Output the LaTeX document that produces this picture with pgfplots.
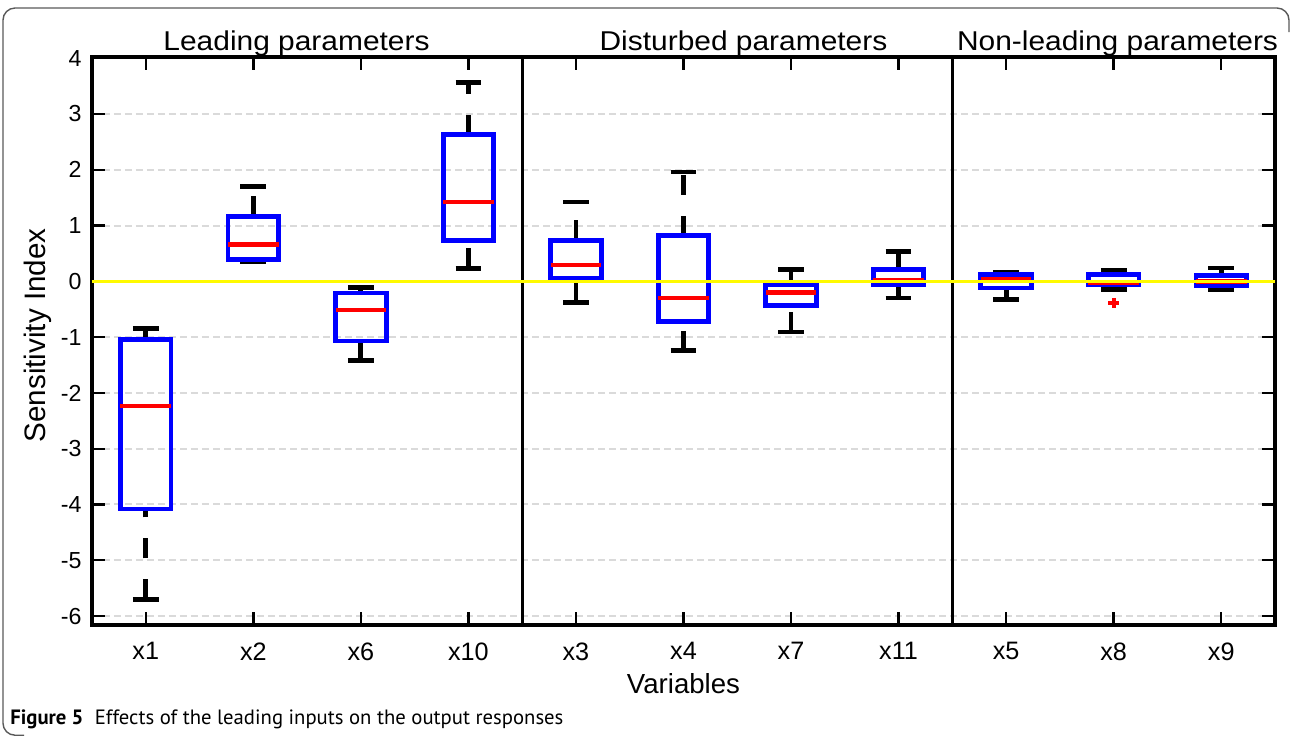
\documentclass[border=0pt]{standalone}
\usepackage{pgfplots}
\pgfplotsset{compat=1.18}
\usepgfplotslibrary{statistics}
\usepackage{fontspec}
\setmainfont{Liberation Sans}
\newfontfamily\titlefont{Liberation Sans}[FakeStretch=1.1]
\newfontfamily\capfont{PT Sans}
\definecolor{mblue}{RGB}{0,0,255}
\definecolor{mred}{RGB}{255,0,0}
\definecolor{myellow}{RGB}{255,250,0}
\definecolor{mgrid}{RGB}{218,218,218}
\pgfplotsset{
  /pgfplots/boxplot/draw/lower whisker/.code={%
    \draw[black, line width=2.4pt, dash pattern=on 10pt off 10.5pt]
      (boxplot cs:\pgfplotsboxplotvalue{lower whisker}) -- (boxplot cs:\pgfplotsboxplotvalue{lower quartile});
    \draw[black, line width=2.4pt]
      (boxplot whisker cs:\pgfplotsboxplotvalue{lower whisker},0) -- (boxplot whisker cs:\pgfplotsboxplotvalue{lower whisker},1);
  },
  /pgfplots/boxplot/draw/upper whisker/.code={%
    \draw[black, line width=2.4pt, dash pattern=on 10pt off 10.5pt]
      (boxplot cs:\pgfplotsboxplotvalue{upper quartile}) -- (boxplot cs:\pgfplotsboxplotvalue{upper whisker});
    \draw[black, line width=2.4pt]
      (boxplot whisker cs:\pgfplotsboxplotvalue{upper whisker},0) -- (boxplot whisker cs:\pgfplotsboxplotvalue{upper whisker},1);
  },
  mybox/.style={draw=mblue, line width=2.4pt, solid,
    boxplot/draw direction=y,
    boxplot/box extend=0.47, boxplot/whisker extend=0.24,
    boxplot/every box/.style={draw=mblue, line width=2.4pt},
    boxplot/every median/.style={draw=mred, line width=2.2pt},
    mark=none},
}
\begin{document}
\begin{tikzpicture}
\useasboundingbox (0,0) rectangle (646pt,-368pt);
\draw[black!65, line width=0.7pt, rounded corners=6pt] (12pt,-367.6pt) -- (1.5pt,-367.6pt) -- (1.5pt,-4pt) -- (644.5pt,-4pt) -- (644.5pt,-16pt);
\begin{axis}[
  at={(46pt,-312.5pt)}, anchor=south west,
  width=591.5pt, height=284pt, scale only axis,
  xmin=0.5, xmax=11.5, ymin=-6.16, ymax=4.02,
  xtick={1,...,11},
  xticklabels={x1,x2,x6,x10,x3,x4,x7,x11,x5,x8,x9},
  ytick={-6,-5,-4,-3,-2,-1,0,1,2,3,4},
  yticklabels={-6,-5,-4,-3,-2,-1,0,1,2,3,4},
  tick align=inside, xtick pos=both, ytick pos=both,
  xticklabel pos=lower, yticklabel pos=left,
  major tick length=6.5pt,
  tick style={black, line width=1.2pt},
  axis line style={black, line width=1.6pt},
  ymajorgrids,
  grid style={mgrid, line width=1pt, dash pattern=on 3.5pt off 2pt},
  xticklabel style={font=\fontsize{12.6}{14}\selectfont, inner sep=0pt, anchor=north, yshift=-8.5pt},
  yticklabel style={font=\fontsize{11.6}{13}\selectfont, inner sep=0pt, anchor=east, xshift=-5pt},
  xlabel={Variables},
  xlabel style={font=\fontsize{13.8}{16}\selectfont, at={(axis description cs:0.5,-0.104)}, anchor=center},
  ylabel={Sensitivity Index},
  ylabel style={font=\fontsize{14.8}{16}\selectfont, at={(axis description cs:-0.0457,0.51)}, anchor=center},
  clip=false,
]
\addplot[black, line width=1.4pt] coordinates {(4.5,-6.16) (4.5,4.02)};
\addplot[black, line width=1.4pt] coordinates {(8.5,-6.16) (8.5,4.02)};

\addplot[mybox, boxplot prepared={draw position=1, lower whisker=-5.70, lower quartile=-4.08, median=-2.23, upper quartile=-1.045, upper whisker=-0.85}] coordinates {};
\addplot[mybox, boxplot prepared={draw position=2, lower whisker=0.35, lower quartile=0.39, median=0.66, upper quartile=1.165, upper whisker=1.70}] coordinates {};
\addplot[mybox, boxplot prepared={draw position=3, lower whisker=-1.42, lower quartile=-1.07, median=-0.51, upper quartile=-0.21, upper whisker=-0.11}] coordinates {};
\addplot[mybox, boxplot prepared={draw position=4, lower whisker=0.23, lower quartile=0.735, median=1.42, upper quartile=2.63, upper whisker=3.56}] coordinates {};
\addplot[mybox, boxplot prepared={draw position=5, lower whisker=-0.38, lower quartile=0.05, median=0.29, upper quartile=0.735, upper whisker=1.42}] coordinates {};
\addplot[mybox, boxplot prepared={draw position=6, lower whisker=-1.24, lower quartile=-0.72, median=-0.30, upper quartile=0.82, upper whisker=1.96}] coordinates {};
\addplot[mybox, boxplot prepared={draw position=7, lower whisker=-0.91, lower quartile=-0.43, median=-0.20, upper quartile=-0.06, upper whisker=0.21}] coordinates {};
\addplot[mybox, boxplot prepared={draw position=8, lower whisker=-0.30, lower quartile=-0.065, median=0.02, upper quartile=0.21, upper whisker=0.53}] coordinates {};
\addplot[mybox, boxplot prepared={draw position=9, lower whisker=-0.32, lower quartile=-0.12, median=0.03, upper quartile=0.12, upper whisker=0.16}] coordinates {};
\addplot[mybox, boxplot prepared={draw position=10, lower whisker=-0.14, lower quartile=-0.06, median=-0.02, upper quartile=0.12, upper whisker=0.20}] coordinates {};
\addplot[mybox, boxplot prepared={draw position=11, lower whisker=-0.14, lower quartile=-0.07, median=0.0, upper quartile=0.10, upper whisker=0.24}] coordinates {};

\addplot[only marks, mark=+, mark size=2.6pt, mred, line width=2pt] coordinates {(10,-0.39)};
\addplot[myellow, line width=1.7pt] coordinates {(0.5,0) (11.5,0)};

\node[anchor=base, inner sep=0pt, font=\titlefont\fontsize{13.6}{16}\selectfont] at (axis description cs:0.1729,1.0123) {Leading parameters};
\node[anchor=base, inner sep=0pt, font=\titlefont\fontsize{13.6}{16}\selectfont] at (axis description cs:0.5507,1.0123) {Disturbed parameters};
\node[anchor=base, inner sep=0pt, font=\titlefont\fontsize{13.6}{16}\selectfont] at (axis description cs:0.8669,1.0123) {Non-leading parameters};
\end{axis}
\node[anchor=base west, inner sep=0pt] at (5pt,-362pt) {\capfont\fontsize{10.35}{12}\selectfont\textbf{Figure 5}\hspace{0.55em}Effects of the leading inputs on the output responses};
\end{tikzpicture}
\end{document}
